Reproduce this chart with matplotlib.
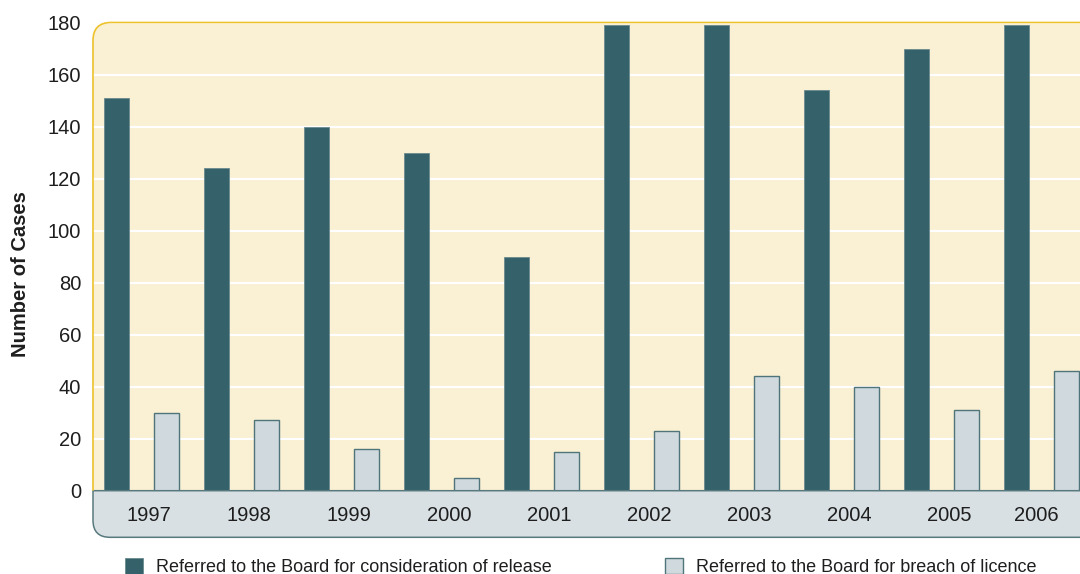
import numpy as np
import matplotlib
matplotlib.use("Agg")
import matplotlib.pyplot as plt
from matplotlib.path import Path
from matplotlib.patches import PathPatch
import matplotlib.transforms as mtransforms

plt.rcParams['font.family'] = ['Liberation Sans', 'DejaVu Sans']

years = ["1997", "1998", "1999", "2000", "2001", "2002", "2003", "2004", "2005", "2006"]
release = [151, 124, 140, 130, 90, 179, 179, 154, 170, 179]
breach = [30, 27, 16, 5, 15, 23, 44, 40, 31, 46]
series_labels = ["Referred to the Board for consideration of release",
                 "Referred to the Board for breach of licence"]
y_ticks = [0, 20, 40, 60, 80, 100, 120, 140, 160, 180]

DARK = "#35626A"
LIGHT = "#CFD9DE"
CREAM = "#FAF0D4"
GOLD = "#EDC22B"
STRIP = "#D8E0E3"
STRIP_EDGE = "#587A7F"
TEXT = "#1E1E1E"

W, H = 1080, 574
fig = plt.figure(figsize=(W / 100, H / 100), dpi=100)

# frame geometry in pixels (origin top-left)
left, top, base, strip_bottom, right = 93, 22.5, 490.7, 537.3, 1110
ax = fig.add_axes([left / W, 1 - base / H, (right - left) / W, (base - top) / H])
ax.set_facecolor("none")

px = mtransforms.Affine2D().scale(1 / W, -1 / H).translate(0, 1) + fig.transFigure

# cream panel with rounded top-left corner
r = 18
M, L, C, Z = Path.MOVETO, Path.LINETO, Path.CURVE3, Path.CLOSEPOLY
panel = Path([(left, base), (left, top + r), (left, top), (left + r, top),
              (right, top), (right, base), (left, base)],
             [M, L, C, C, L, L, Z])
ax.add_patch(PathPatch(panel, transform=px, facecolor=CREAM, edgecolor="none",
                       zorder=0.1, clip_on=False))
border = Path([(left, base), (left, top + r), (left, top), (left + r, top), (right, top)],
              [M, L, C, C, L])
ax.add_patch(PathPatch(border, transform=px, facecolor="none", edgecolor=GOLD,
                       lw=1.2, zorder=4, clip_on=False))

# category strip under the bars with rounded bottom-left corner
r2 = 17
strip = Path([(left, base), (left, strip_bottom - r2), (left, strip_bottom),
              (left + r2, strip_bottom), (right, strip_bottom), (right, base), (left, base)],
             [M, L, C, C, L, L, Z])
ax.add_patch(PathPatch(strip, transform=px, facecolor=STRIP, edgecolor=STRIP_EDGE,
                       lw=1.1, zorder=3, clip_on=False))

x = np.arange(len(years))
w = 0.25
b1 = ax.bar(x - w, release, width=w, color=DARK, edgecolor="#6A8A8E", lw=0.6,
            zorder=2, label=series_labels[0])
b2 = ax.bar(x + w, breach, width=w, color=LIGHT, edgecolor="#4F7479", lw=1.0,
            zorder=2, label=series_labels[1])

ax.set_xlim(-0.48, -0.48 + (right - left) / 100)
ax.set_ylim(0, 180)
ax.set_yticks(y_ticks)
ax.set_yticklabels([str(v) for v in y_ticks], fontsize=14.5, color=TEXT)
ax.yaxis.grid(True, color="white", lw=1.5)
ax.set_axisbelow(True)

# year labels sit a little right of each group; the final one is pulled in
tick_pos = x + 0.08
tick_pos[-1] = x[-1] - 0.05
ax.set_xticks(tick_pos)
ax.set_xticklabels(years, fontsize=14.5, color=TEXT)
ax.xaxis.set_zorder(5)
ax.tick_params(axis="both", length=0)
ax.tick_params(axis="y", pad=8.6)
ax.tick_params(axis="x", pad=11)
for s in ax.spines.values():
    s.set_visible(False)

ax.set_ylabel("Number of Cases", fontsize=14.5, fontweight="bold", color=TEXT)
ax.yaxis.set_label_coords(-0.0616, 0.463)

fig.legend(handles=[b1, b2], labels=series_labels, loc="upper left",
           bbox_to_anchor=(125 / W, 1 - 558 / H), ncol=2, frameon=False,
           fontsize=13, handlelength=1.0, handleheight=1.0, handletextpad=0.7,
           columnspacing=6.3, borderpad=0, borderaxespad=0, labelcolor=TEXT)

fig.savefig("out.png", dpi=100)
